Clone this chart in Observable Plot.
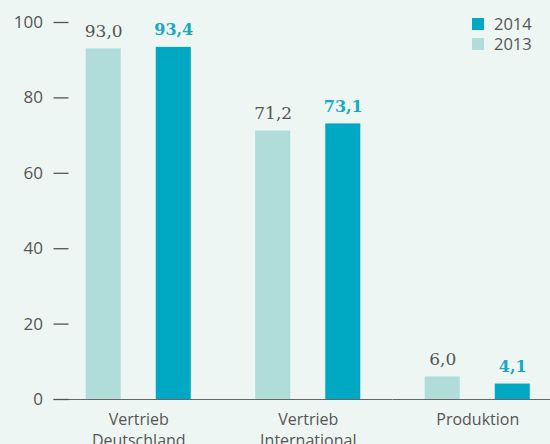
<!DOCTYPE html>
<html><head><meta charset="utf-8">
<script src="https://cdn.jsdelivr.net/npm/d3@7"></script>
<script src="https://cdn.jsdelivr.net/npm/@observablehq/plot@0.6"></script>
<style>
html,body{margin:0;padding:0;background:#eef6f3;overflow:hidden;}
#wrap{position:relative;width:550px;height:444px;overflow:hidden;}
#legend{position:absolute;left:472px;top:14px;font-family:"Open Sans";font-size:16.5px;line-height:20px;color:#555;}
#legend .row{display:flex;align-items:center;height:20px;}
#legend .sw{width:12px;height:12px;margin-right:10px;}
</style></head><body><div id="wrap"></div>
<script>
const categories = ["Vertrieb Deutschland", "Vertrieb International", "Produktion"];
const years = ["2013", "2014"];
const values2013 = [93.0, 71.2, 6.0];
const values2014 = [93.4, 73.1, 4.1];
const yTicks = [0, 20, 40, 60, 80, 100];
const yearColors = ["#b0dcd9", "#00a9c3"];
const legendOrder = ["2014", "2013"];

const data = categories.flatMap((c, i) => [
  {category: c, year: "2013", value: values2013[i]},
  {category: c, year: "2014", value: values2014[i]}
]);
const fmt = v => v.toFixed(1).replace(".", ",");

const chart = Plot.plot({
  width: 550, height: 444,
  marginLeft: 53.5, marginRight: -12, marginTop: 22, marginBottom: 45,
  style: {background: "transparent", fontFamily: "Open Sans", fontSize: "17px", color: "#555", overflow: "hidden"},
  fx: {domain: categories, padding: 0, round: false, label: null},
  x: {domain: years, paddingInner: 0.5, paddingOuter: 0.46, round: false, axis: null},
  y: {domain: [0, 100], label: null},
  color: {domain: years, range: yearColors},
  marks: [
    Plot.barY(data, {fx: "category", x: "year", y: "value", fill: "year"}),
    Plot.ruleY([0], {stroke: "#666", strokeWidth: 1.2}),
    Plot.axisY({ticks: yTicks, tickSize: -15, tickPadding: 26, color: "#555", strokeWidth: 1.3, fontSize: 17, label: null}),
    Plot.axisFx({anchor: "bottom", tickSize: 0, tickPadding: 11, lineHeight: 1.3, fontSize: 16, color: "#555", label: null,
      tickFormat: d => d.replace(" ", "\n")}),
    Plot.text(data.filter(d => d.year === "2013"), {fx: "category", x: "year", y: "value", text: d => fmt(d.value),
      dy: -12, lineAnchor: "bottom", fill: "#555", fontFamily: "DejaVu Serif", fontSize: 17}),
    Plot.text(data.filter(d => d.year === "2014"), {fx: "category", x: "year", y: "value", text: d => fmt(d.value),
      dy: -12, lineAnchor: "bottom", fill: "#1aa8c5", fontFamily: "DejaVu Serif", fontWeight: "bold", fontSize: 16})
  ]
});
const wrap = document.getElementById("wrap");
wrap.appendChild(chart);

const colorScale = chart.scale("color");
const leg = d3.select(wrap).append("div").attr("id", "legend");
legendOrder.forEach(y => {
  const row = leg.append("div").attr("class", "row");
  row.append("div").attr("class", "sw").style("background", colorScale.range[colorScale.domain.indexOf(y)]);
  row.append("span").text(y);
});
</script></body></html>
